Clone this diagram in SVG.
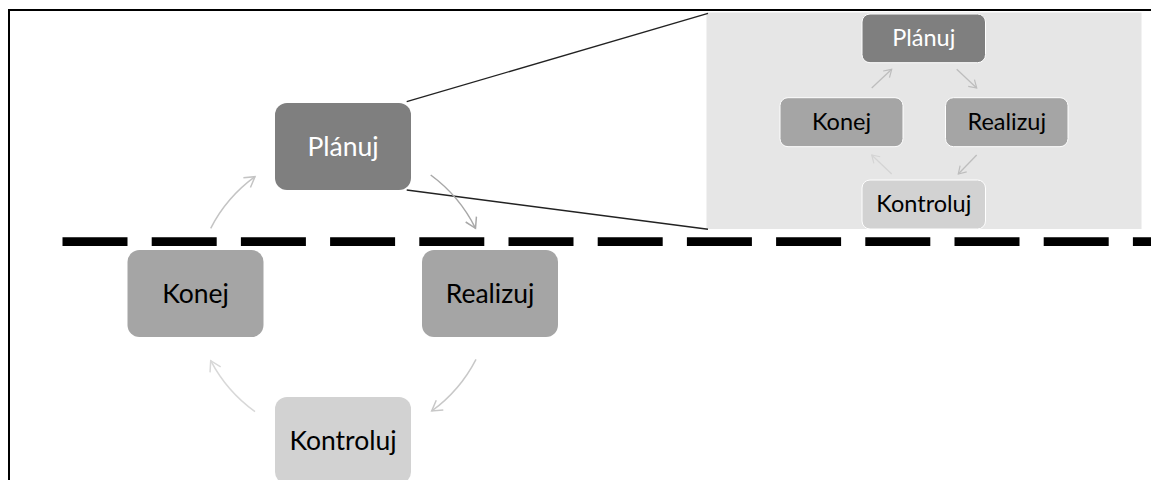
<svg xmlns="http://www.w3.org/2000/svg" width="1151" height="480" viewBox="0 0 1151 480">
<style>
  .lbl { font-family: Lato, "Noto Sans", "DejaVu Sans", sans-serif; text-anchor: middle; }
  .big { font-size: 26.5px; }
  .small { font-size: 23.5px; }
  .dark { fill: #7f7f7f; }
  .mid { fill: #a5a5a5; }
  .light { fill: #d2d2d2; }
  .inset-node { stroke: #ffffff; stroke-width: 1; }
  .arc { fill: none; stroke-width: 1.5; }
</style>
<defs>
  <marker id="ah1" viewBox="0 0 14 14" refX="12" refY="7" markerWidth="14" markerHeight="14" markerUnits="userSpaceOnUse" orient="auto">
    <polyline points="2,1 12,7 2,13" fill="none" stroke="#c4c4c4" stroke-width="1.5"/>
  </marker>
  <marker id="ah2" viewBox="0 0 14 14" refX="12" refY="7" markerWidth="14" markerHeight="14" markerUnits="userSpaceOnUse" orient="auto">
    <polyline points="2,1 12,7 2,13" fill="none" stroke="#a8a8a8" stroke-width="1.5"/>
  </marker>
  <marker id="ah3" viewBox="0 0 14 14" refX="12" refY="7" markerWidth="14" markerHeight="14" markerUnits="userSpaceOnUse" orient="auto">
    <polyline points="2,1 12,7 2,13" fill="none" stroke="#c8c8c8" stroke-width="1.5"/>
  </marker>
  <marker id="ah4" viewBox="0 0 14 14" refX="12" refY="7" markerWidth="14" markerHeight="14" markerUnits="userSpaceOnUse" orient="auto">
    <polyline points="2,1 12,7 2,13" fill="none" stroke="#d8d8d8" stroke-width="1.5"/>
  </marker>
  <marker id="ahs" viewBox="0 0 12 12" refX="10" refY="6" markerWidth="11" markerHeight="11" markerUnits="userSpaceOnUse" orient="auto">
    <polyline points="2,1 10,6 2,11" fill="none" stroke="#bdbdbd" stroke-width="1.3"/>
  </marker>
  <marker id="ahs2" viewBox="0 0 12 12" refX="10" refY="6" markerWidth="11" markerHeight="11" markerUnits="userSpaceOnUse" orient="auto">
    <polyline points="2,1 10,6 2,11" fill="none" stroke="#d4d4d4" stroke-width="1.3"/>
  </marker>
</defs>

<rect width="1151" height="480" fill="#ffffff"/>

<!-- frame -->
<g id="frame" fill="none" stroke="#000" stroke-width="2">
  <line x1="9" y1="10" x2="1151" y2="10"/>
  <line x1="9" y1="9" x2="9" y2="480"/>
</g>

<!-- inset background -->
<rect id="inset" x="706.5" y="12.5" width="435" height="216.5" fill="#e6e6e6"/>

<!-- zoom lines -->
<g id="zoom-lines" stroke="#222" stroke-width="1.4">
  <line x1="406.7" y1="101.7" x2="708" y2="13.3"/>
  <line x1="406.7" y1="190" x2="708" y2="229.3"/>
</g>

<!-- dashed separator -->
<line id="separator" x1="62.5" y1="241.7" x2="1151" y2="241.7" stroke="#000" stroke-width="8.7" stroke-dasharray="65 24.2"/>

<!-- connectors -->
<g id="connectors">
  <path class="arc" stroke="#c4c4c4" marker-end="url(#ah1)" d="M210.7,228.3 A147,147 0 0 1 255,176.7"/>
  <path class="arc" stroke="#a8a8a8" marker-end="url(#ah2)" d="M430.7,175 A147,147 0 0 1 475.5,228.3"/>
  <path class="arc" stroke="#c8c8c8" marker-end="url(#ah3)" d="M476,359.3 A147,147 0 0 1 431.7,411"/>
  <path class="arc" stroke="#d8d8d8" marker-end="url(#ah4)" d="M255,411.7 A147,147 0 0 1 210.7,360.7"/>
  <line x1="871.7" y1="88" x2="891.7" y2="69.3" stroke="#bdbdbd" stroke-width="1.3" marker-end="url(#ahs)"/>
  <line x1="956.7" y1="69.3" x2="976.7" y2="88" stroke="#bdbdbd" stroke-width="1.3" marker-end="url(#ahs)"/>
  <line x1="976.7" y1="155" x2="958.3" y2="174" stroke="#bdbdbd" stroke-width="1.3" marker-end="url(#ahs)"/>
  <line x1="891.7" y1="174" x2="871.7" y2="155" stroke="#d4d4d4" stroke-width="1.3" marker-end="url(#ahs2)"/>
</g>

<!-- main nodes -->
<g id="node-planuj">
  <rect class="dark" x="275" y="103" width="136" height="87" rx="12"/>
  <text class="lbl big" x="343" y="156" fill="#ffffff">Plánuj</text>
</g>
<g id="node-realizuj">
  <rect class="mid" x="422" y="250" width="136" height="87" rx="12"/>
  <text class="lbl big" x="490" y="303" fill="#000">Realizuj</text>
</g>
<g id="node-kontroluj">
  <rect class="light" x="275" y="397" width="136" height="87" rx="12"/>
  <text class="lbl big" x="343" y="450" fill="#000">Kontroluj</text>
</g>
<g id="node-konej">
  <rect class="mid" x="127.5" y="250" width="136" height="87" rx="12"/>
  <text class="lbl big" x="195.5" y="303" fill="#000">Konej</text>
</g>

<!-- inset nodes -->
<g id="inset-planuj">
  <rect class="dark inset-node" x="862" y="14" width="123.5" height="48.7" rx="8"/>
  <text class="lbl small" x="923.8" y="46" fill="#ffffff">Plánuj</text>
</g>
<g id="inset-realizuj">
  <rect class="mid inset-node" x="945.5" y="97.7" width="122.5" height="49" rx="8"/>
  <text class="lbl small" x="1006.8" y="130" fill="#000">Realizuj</text>
</g>
<g id="inset-kontroluj">
  <rect class="light inset-node" x="862" y="180" width="123.5" height="49" rx="8"/>
  <text class="lbl small" x="923.8" y="212" fill="#000">Kontroluj</text>
</g>
<g id="inset-konej">
  <rect class="mid inset-node" x="780" y="97.7" width="123" height="49" rx="8"/>
  <text class="lbl small" x="841.5" y="130" fill="#000">Konej</text>
</g>
</svg>
